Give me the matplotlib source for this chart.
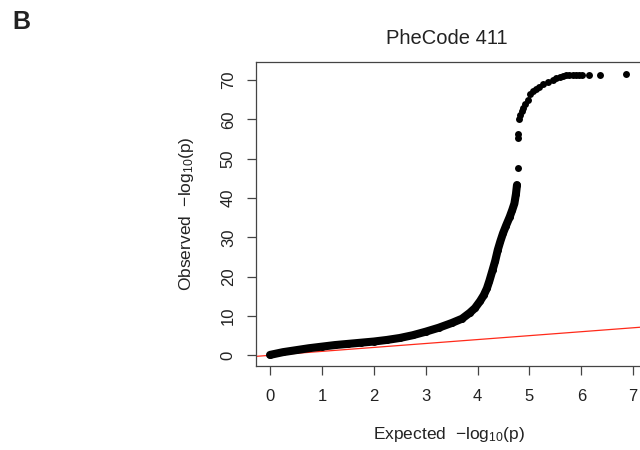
import matplotlib
matplotlib.use('Agg')
import matplotlib.pyplot as plt

# ---- data ----
panel_label = "B"
title = "PheCode 411"

# continuous dense band of the QQ curve
band_expected = [0.0, 0.25, 0.5, 0.75, 1.0, 1.25, 1.5, 1.75, 2.0, 2.25, 2.5, 2.75,
                 3.0, 3.25, 3.5, 3.7, 3.85, 3.95, 4.05, 4.12, 4.18, 4.23, 4.29,
                 4.34, 4.39, 4.44, 4.49, 4.55, 4.62, 4.67, 4.71, 4.74, 4.76]
band_observed = [0.1, 0.8, 1.3, 1.8, 2.2, 2.6, 2.9, 3.2, 3.5, 3.9, 4.4, 5.1,
                 6.0, 7.0, 8.2, 9.3, 10.8, 12.0, 13.8, 15.3, 17.0, 19.0, 21.7,
                 24.0, 26.8, 29.0, 31.0, 33.0, 35.2, 37.0, 38.6, 41.0, 43.3]

# sparse points at the top
top_expected = [4.78, 4.78, 4.78, 4.80, 4.82, 4.85, 4.88, 4.92, 4.97, 5.02, 5.06,
                5.12, 5.18, 5.26, 5.35, 5.45, 5.52, 5.58, 5.64, 5.70, 5.77, 5.84,
                5.90, 5.96, 6.01, 6.15, 6.36, 6.86]
top_observed = [47.6, 55.3, 56.2, 60.0, 61.0, 62.0, 63.0, 64.0, 65.0, 66.5, 67.3,
                67.8, 68.3, 69.0, 69.5, 69.9, 70.4, 70.8, 71.0, 71.2, 71.3, 71.3,
                71.3, 71.3, 71.3, 71.3, 71.3, 71.5]

x_ticks = [0, 1, 2, 3, 4, 5, 6, 7]
y_ticks = [0, 10, 20, 30, 40, 50, 60, 70]

# ---- style ----
plt.rcParams['font.family'] = ['Liberation Sans', 'DejaVu Sans']
plt.rcParams['mathtext.fontset'] = 'custom'
plt.rcParams['mathtext.rm'] = 'Liberation Sans'
plt.rcParams['mathtext.it'] = 'Liberation Sans:italic'

W, H = 640, 450
fig = plt.figure(figsize=(W / 100, H / 100), dpi=100)
ax = fig.add_axes([256 / W, 1 - 366 / H, (641 - 256) / W, (366 - 62) / H])

ax.axline((0, 0), slope=1, color='#ff2a1a', lw=0.9, zorder=1)
ax.plot(band_expected, band_observed, color='black', lw=5.8,
        solid_capstyle='round', solid_joinstyle='round', zorder=2)
ax.plot(band_expected + top_expected, band_observed + top_observed, 'o',
        color='black', ms=5.0, mew=0, zorder=3)

ax.set_xlim(-0.27, 7.15)
ax.set_ylim(-2.72, 74.57)
ax.set_xticks(x_ticks)
ax.set_yticks(y_ticks)
ax.set_yticklabels([str(v) for v in y_ticks], rotation=90, va='center')

for s in ax.spines.values():
    s.set_color('#444444')
    s.set_linewidth(0.9)
ax.tick_params(direction='out', length=6.5, width=0.9, color='#444444',
               labelsize=12, labelcolor='#222222')
ax.tick_params(axis='x', pad=10)
ax.tick_params(axis='y', pad=8)

ax.set_xlabel(r'Expected  $\mathregular{-log_{10}(p)}$', fontsize=12.5,
              color='#222222', labelpad=15)
ax.set_ylabel(r'Observed  $\mathregular{-log_{10}(p)}$', fontsize=12.5,
              color='#222222', labelpad=18)

fig.text(447 / W, 1 - 38 / H, title, ha='center', va='center', fontsize=14.5,
         color='#222222')
fig.text(12 / W, 1 - 22 / H, panel_label, ha='left', va='center', fontsize=18,
         fontweight='bold', color='#222222')

fig.savefig('out.png', dpi=100)
